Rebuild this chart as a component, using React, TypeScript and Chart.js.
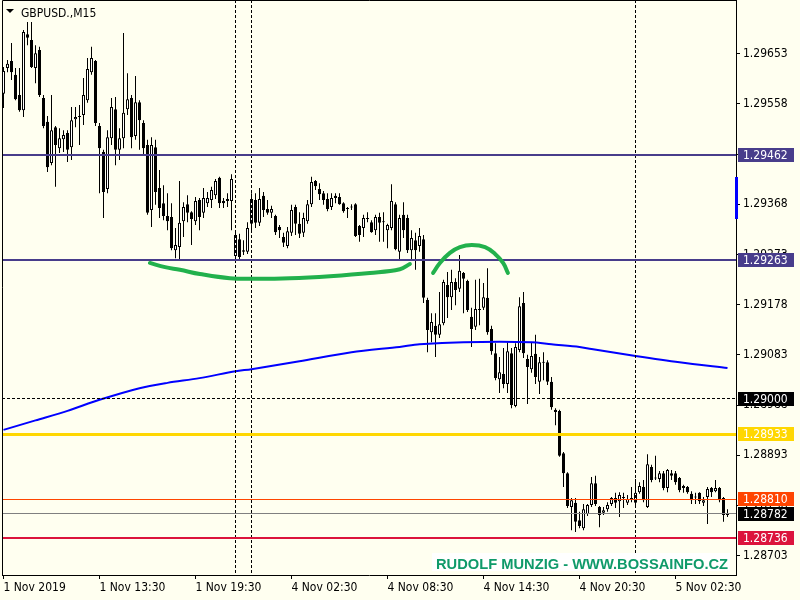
import React, { useEffect, useRef } from "react";
import { Chart, registerables } from "chart.js";

Chart.register(...registerables);

// ---------- text ----------
const SYMBOL_TITLE = "GBPUSD.,M15";
const WATERMARK_TEXT = "RUDOLF MUNZIG - WWW.BOSSAINFO.CZ";

// ---------- M15 candles (bar index 0..181) ----------
const OPEN = [
  1.29577, 1.29626, 1.29639, 1.29613, 1.29575, 1.29546, 1.2969, 1.29679, 1.29626, 1.2966,
  1.29569, 1.29524, 1.29446, 1.29514, 1.29474, 1.29491, 1.29503, 1.29476, 1.29529, 1.29533,
  1.29537, 1.29565, 1.29618, 1.29639, 1.29516, 1.29467, 1.29397, 1.29493, 1.29548, 1.29471,
  1.29493, 1.29548, 1.29569, 1.29497, 1.29561, 1.29522, 1.2948, 1.29357, 1.29476, 1.29399,
  1.2937, 1.29346, 1.29344, 1.29281, 1.29287, 1.29336, 1.29368, 1.29353, 1.29336, 1.29376,
  1.29352, 1.2937, 1.29376, 1.29385, 1.29418, 1.29374, 1.29374, 1.29374, 1.2927, 1.29302,
  1.29281, 1.29278, 1.29331, 1.29376, 1.29333, 1.29384, 1.29359, 1.29352, 1.29346, 1.29325,
  1.29306, 1.29289, 1.29314, 1.29363, 1.29331, 1.29314, 1.29336, 1.29368, 1.29412, 1.29397,
  1.29389, 1.29378, 1.29363, 1.29384, 1.29382, 1.2937, 1.29361, 1.29363, 1.29368, 1.29327,
  1.29323, 1.2934, 1.29334, 1.29319, 1.29344, 1.29334, 1.29319, 1.29323, 1.29368, 1.29278,
  1.29348, 1.29342, 1.29281, 1.293, 1.29289, 1.29302, 1.29187, 1.29126, 1.29138, 1.29121,
  1.29143, 1.29215, 1.29192, 1.29221, 1.29208, 1.29238, 1.29223, 1.29155, 1.29136, 1.29168,
  1.29172, 1.29191, 1.29132, 1.29086, 1.29037, 1.29047, 1.29028, 1.29086, 1.28986, 1.29092,
  1.29181, 1.29075, 1.29056, 1.29085, 1.29032, 1.29069, 1.29069, 1.29032, 1.28979, 1.28977,
  1.28897, 1.28859, 1.28795, 1.28803, 1.2877, 1.28755, 1.28782, 1.28799, 1.2884, 1.28795,
  1.28784, 1.28791, 1.28801, 1.28812, 1.28806, 1.28814, 1.28803, 1.2881, 1.28803, 1.28823,
  1.28833, 1.28795, 1.28871, 1.2885, 1.28848, 1.28859, 1.28831, 1.28859, 1.28859, 1.2885,
  1.28835, 1.28833, 1.2882, 1.28814, 1.28822, 1.28803, 1.28814, 1.28831, 1.28825, 1.28831,
  1.28812, 1.2878,
];
const HIGH = [
  1.29628, 1.29641, 1.29673, 1.29626, 1.29626, 1.29698, 1.29713, 1.29713, 1.29669, 1.29666,
  1.29575, 1.29535, 1.29575, 1.29516, 1.29512, 1.29508, 1.29508, 1.29552, 1.29552, 1.29556,
  1.29607, 1.29645, 1.29666, 1.29641, 1.29522, 1.29471, 1.29508, 1.29569, 1.29571, 1.29512,
  1.29692, 1.29616, 1.29575, 1.29611, 1.29565, 1.29527, 1.2949, 1.29495, 1.2949, 1.29433,
  1.29404, 1.29389, 1.2937, 1.29323, 1.29412, 1.29372, 1.29385, 1.29355, 1.29382, 1.2938,
  1.29399, 1.29391, 1.29401, 1.29416, 1.2942, 1.2938, 1.29389, 1.29425, 1.29319, 1.29312,
  1.293, 1.29334, 1.29389, 1.29389, 1.29399, 1.29391, 1.29376, 1.29365, 1.29348, 1.29329,
  1.29314, 1.29325, 1.29367, 1.29367, 1.29353, 1.29352, 1.29376, 1.2942, 1.29414, 1.29408,
  1.29393, 1.29389, 1.29389, 1.29389, 1.29389, 1.29372, 1.29363, 1.29368, 1.2937, 1.29329,
  1.29348, 1.29353, 1.29338, 1.29348, 1.29352, 1.29353, 1.29331, 1.29406, 1.29372, 1.29348,
  1.29372, 1.29348, 1.29319, 1.29314, 1.29323, 1.2931, 1.29191, 1.29162, 1.29162, 1.29202,
  1.29225, 1.2924, 1.29244, 1.29228, 1.29272, 1.2924, 1.29225, 1.29172, 1.29225, 1.29227,
  1.29219, 1.29247, 1.29138, 1.29105, 1.29079, 1.29096, 1.29107, 1.29096, 1.29105, 1.29192,
  1.29202, 1.29083, 1.29107, 1.29121, 1.29079, 1.29088, 1.29073, 1.29041, 1.28982, 1.28979,
  1.28899, 1.28861, 1.28812, 1.28812, 1.28786, 1.28801, 1.28801, 1.28852, 1.28854, 1.28797,
  1.28795, 1.28804, 1.28814, 1.28822, 1.28823, 1.28822, 1.28818, 1.28833, 1.28848, 1.28842,
  1.28846, 1.28895, 1.28875, 1.28892, 1.28863, 1.28863, 1.28867, 1.28865, 1.28863, 1.28852,
  1.28837, 1.28835, 1.28825, 1.28822, 1.28823, 1.28814, 1.28833, 1.28833, 1.28846, 1.28833,
  1.28814, 1.28791,
];
const LOW = [
  1.2955, 1.29618, 1.29603, 1.29565, 1.29543, 1.29533, 1.29669, 1.29626, 1.29597, 1.29571,
  1.29512, 1.29429, 1.29442, 1.29401, 1.29465, 1.29467, 1.29448, 1.29452, 1.29514, 1.2948,
  1.29518, 1.2956, 1.29613, 1.29516, 1.29389, 1.29342, 1.29389, 1.2948, 1.29442, 1.29452,
  1.29474, 1.29537, 1.29474, 1.2949, 1.29471, 1.29461, 1.29348, 1.29325, 1.29367, 1.29342,
  1.29338, 1.29319, 1.29281, 1.29266, 1.29262, 1.29306, 1.29334, 1.29291, 1.29329, 1.29319,
  1.29342, 1.29363, 1.29361, 1.29378, 1.29361, 1.29361, 1.29363, 1.29319, 1.29262, 1.29262,
  1.29272, 1.29274, 1.29314, 1.29323, 1.29327, 1.29344, 1.29348, 1.29342, 1.2931, 1.29304,
  1.29287, 1.29285, 1.29308, 1.2931, 1.29304, 1.29306, 1.29331, 1.29363, 1.29395, 1.29376,
  1.29367, 1.29355, 1.29357, 1.2937, 1.29367, 1.29352, 1.29342, 1.29357, 1.29306, 1.29297,
  1.29306, 1.29334, 1.29314, 1.2931, 1.29297, 1.29297, 1.29285, 1.29319, 1.29281, 1.29262,
  1.29304, 1.29276, 1.29262, 1.29244, 1.29278, 1.29181, 1.29088, 1.29107, 1.29079, 1.29115,
  1.29139, 1.29153, 1.29168, 1.29177, 1.29202, 1.29162, 1.29164, 1.29098, 1.2913, 1.29139,
  1.29168, 1.29121, 1.29083, 1.29035, 1.29011, 1.2902, 1.29011, 1.28982, 1.28984, 1.29088,
  1.29077, 1.2899, 1.29049, 1.29028, 1.29009, 1.29035, 1.29026, 1.28979, 1.2895, 1.2889,
  1.28833, 1.28793, 1.28751, 1.28748, 1.28755, 1.28751, 1.28778, 1.28795, 1.28797, 1.28757,
  1.2878, 1.28786, 1.28797, 1.28793, 1.28776, 1.28793, 1.28799, 1.28804, 1.28799, 1.2882,
  1.28804, 1.28793, 1.28842, 1.28846, 1.28842, 1.28827, 1.28823, 1.28846, 1.28837, 1.28823,
  1.28822, 1.2882, 1.28801, 1.28801, 1.28801, 1.28797, 1.28763, 1.28814, 1.28823, 1.28804,
  1.28767, 1.28776,
];
const CLOSE = [
  1.2962, 1.29634, 1.29618, 1.29567, 1.29546, 1.29694, 1.29683, 1.29628, 1.29654, 1.29575,
  1.29516, 1.29438, 1.29508, 1.2948, 1.29493, 1.29499, 1.29471, 1.29527, 1.29533, 1.29535,
  1.29575, 1.29624, 1.29645, 1.29522, 1.29474, 1.29391, 1.29495, 1.29552, 1.29471, 1.29493,
  1.29541, 1.29567, 1.29495, 1.29561, 1.29527, 1.29474, 1.29352, 1.2948, 1.29391, 1.29361,
  1.29346, 1.29336, 1.29285, 1.29291, 1.29333, 1.29363, 1.29352, 1.2934, 1.29374, 1.29344,
  1.2938, 1.2938, 1.29395, 1.29412, 1.2937, 1.2937, 1.29378, 1.29416, 1.2931, 1.29268,
  1.29278, 1.29323, 1.29378, 1.29333, 1.29378, 1.29357, 1.29352, 1.29359, 1.29315, 1.29319,
  1.29295, 1.29317, 1.29357, 1.29331, 1.29312, 1.29342, 1.29368, 1.2941, 1.29402, 1.29387,
  1.29376, 1.29359, 1.2938, 1.2938, 1.29368, 1.29355, 1.29359, 1.29362, 1.29308, 1.2931,
  1.29342, 1.29341, 1.29315, 1.29344, 1.29333, 1.29336, 1.29329, 1.29374, 1.29283, 1.29342,
  1.29319, 1.29281, 1.29304, 1.29281, 1.29308, 1.29191, 1.2913, 1.29145, 1.29121, 1.29141,
  1.29221, 1.29192, 1.29221, 1.29206, 1.29242, 1.29227, 1.29168, 1.29132, 1.2917, 1.2917,
  1.29192, 1.29126, 1.2909, 1.29039, 1.2905, 1.29028, 1.2909, 1.28988, 1.29098, 1.29175,
  1.29086, 1.2906, 1.29081, 1.29041, 1.29069, 1.29068, 1.29032, 1.28984, 1.28975, 1.28892,
  1.28859, 1.28797, 1.28808, 1.28767, 1.28759, 1.28791, 1.28799, 1.2884, 1.28801, 1.2878,
  1.28789, 1.28799, 1.28812, 1.28803, 1.28818, 1.28812, 1.2881, 1.28811, 1.28822, 1.28835,
  1.28808, 1.28876, 1.28846, 1.28849, 1.28859, 1.28831, 1.28865, 1.28854, 1.28842, 1.28827,
  1.28831, 1.28823, 1.28808, 1.28813, 1.28806, 1.28808, 1.28829, 1.28823, 1.28831, 1.28808,
  1.2878, 1.28782,
];

// ---------- axes ----------
const X_TICK_BARS = [0, 24, 48, 72, 96, 120, 144, 168];
const X_TICK_LABELS = [
  "1 Nov 2019", "1 Nov 13:30", "1 Nov 19:30", "4 Nov 02:30",
  "4 Nov 08:30", "4 Nov 14:30", "4 Nov 20:30", "5 Nov 02:30",
];
const Y_TICKS = [
  1.29653, 1.29558, 1.29463, 1.29368, 1.29273, 1.29178,
  1.29083, 1.28988, 1.28893, 1.28798, 1.28703,
];
const X_MIN = -0.375;
const X_MAX = 183.125;
const Y_MIN = 1.286664;
const Y_MAX = 1.297546;

// ---------- moving average (sampled along the bars) ----------
const MA_BARS = [0, 8, 16, 24, 34, 41, 49, 58, 62, 74, 87, 99, 104, 115, 132, 137, 144, 147, 158, 169, 181];
const MA_VALUES = [
  1.28941, 1.28959, 1.28977, 1.28998, 1.2902, 1.2903, 1.29039, 1.29052, 1.29056, 1.29071,
  1.29088, 1.29098, 1.29103, 1.29107, 1.29107, 1.29103, 1.29098, 1.29094, 1.29081, 1.29069, 1.29058,
];

// ---------- hand-drawn green arcs ----------
const ARC1_BARS = [36.6, 40.4, 44.1, 49.1, 56.6, 63.4, 71.6, 81.6, 91.6, 99.1, 101.6];
const ARC1_PRICES = [1.29257, 1.29249, 1.29244, 1.29236, 1.29228, 1.29227, 1.29228, 1.29232, 1.29238, 1.29245, 1.29255];
const ARC2_BARS = [107.4, 109.1, 111.6, 114.1, 117.1, 120.4, 122.9, 124.9, 126.1];
const ARC2_PRICES = [1.29238, 1.29257, 1.29276, 1.29287, 1.29291, 1.29287, 1.29274, 1.29257, 1.29238];

// ---------- horizontal levels / vertical lines ----------
const LEVEL_PRICES = [1.29462, 1.29263, 1.29, 1.28933, 1.2881, 1.28782, 1.28736];
const VLINE_BARS = [58, 62, 158];
const AXIS_MARKER = [1.29341, 1.2942];

// ---------- styles ----------
const BG = "#FFFFF0";
const FONT = "'DejaVu Sans Condensed', 'DejaVu Sans', sans-serif";
const GREEN = "#22B14C";
const LEVEL_STYLES = [
  { line: "#483D8B", width: 2, box: "#483D8B", dash: [] as number[] },
  { line: "#483D8B", width: 2, box: "#483D8B", dash: [] as number[] },
  { line: "#000000", width: 1, box: "#000000", dash: [3, 2] },
  { line: "#FFD700", width: 3, box: "#FFD700", dash: [] as number[] },
  { line: "#FF4500", width: 1, box: "#FF4500", dash: [] as number[] },
  { line: "#808080", width: 1, box: "#000000", dash: [] as number[] },
  { line: "#DC143C", width: 2, box: "#DC143C", dash: [] as number[] },
];
const MA_DATASET_INDEX = 2;

function drawObjects(chart: any) {
  const { ctx, chartArea: a, scales } = chart;
  const x = scales.x;
  const y = scales.y;
  ctx.save();
  ctx.beginPath();
  ctx.rect(a.left, a.top, a.right - a.left, a.bottom - a.top);
  ctx.clip();
  ctx.strokeStyle = "#000";
  ctx.lineWidth = 1;
  ctx.setLineDash([3, 2]);
  for (const b of VLINE_BARS) {
    const px = Math.floor(x.getPixelForValue(b)) + 0.5;
    ctx.beginPath();
    ctx.moveTo(px, a.top);
    ctx.lineTo(px, a.bottom);
    ctx.stroke();
  }
  LEVEL_PRICES.forEach((p, k) => {
    const st = LEVEL_STYLES[k];
    const py = y.getPixelForValue(p);
    const yy = st.width % 2 === 1 ? Math.floor(py) + 0.5 : Math.round(py);
    ctx.setLineDash(st.dash);
    ctx.lineWidth = st.width;
    ctx.strokeStyle = st.line;
    ctx.beginPath();
    ctx.moveTo(a.left, yy);
    ctx.lineTo(a.right, yy);
    ctx.stroke();
  });
  ctx.restore();
}

const overlay = {
  id: "mt4overlay",
  beforeDraw(chart: any) {
    const { ctx, width, height } = chart;
    ctx.save();
    ctx.fillStyle = BG;
    ctx.fillRect(0, 0, width, height);
    ctx.restore();
  },
  afterDatasetDraw(chart: any, args: any) {
    if (args.index === MA_DATASET_INDEX) drawObjects(chart);
  },
  afterDraw(chart: any) {
    const { ctx, chartArea: a, scales } = chart;
    const y = scales.y;
    ctx.save();
    // top and left frame
    ctx.strokeStyle = "#000";
    ctx.lineWidth = 1;
    ctx.setLineDash([]);
    ctx.beginPath();
    ctx.moveTo(a.left + 0.5, a.bottom);
    ctx.lineTo(a.left + 0.5, a.top + 0.5);
    ctx.lineTo(a.right, a.top + 0.5);
    ctx.stroke();
    // blue marker on the price axis
    const m1 = y.getPixelForValue(AXIS_MARKER[1]);
    const m0 = y.getPixelForValue(AXIS_MARKER[0]);
    ctx.fillStyle = "#0000FF";
    ctx.fillRect(a.right - 1, Math.round(m1), 3, Math.round(m0 - m1));
    // level labels
    ctx.font = `12px ${FONT}`;
    ctx.textAlign = "left";
    ctx.textBaseline = "middle";
    LEVEL_PRICES.forEach((p, k) => {
      const st = LEVEL_STYLES[k];
      const cy = Math.round(y.getPixelForValue(p));
      ctx.fillStyle = st.box;
      ctx.fillRect(a.right + 2, cy - 7, 56, 14);
      ctx.fillStyle = "#FFFFFF";
      ctx.fillText(p.toFixed(5), a.right + 7, cy + 0.5);
    });
    // title
    ctx.fillStyle = "#000";
    ctx.beginPath();
    ctx.moveTo(6, 9);
    ctx.lineTo(14, 9);
    ctx.lineTo(10, 13);
    ctx.closePath();
    ctx.fill();
    ctx.textBaseline = "alphabetic";
    ctx.fillText(SYMBOL_TITLE, 21, 17);
    // watermark
    ctx.fillStyle = "#FFFFFF";
    ctx.fillRect(432, 553, 298, 18);
    ctx.font = "bold 14.7px 'Liberation Sans', Arial, sans-serif";
    ctx.fillStyle = "#0F9A6A";
    ctx.textAlign = "center";
    ctx.fillText(WATERMARK_TEXT, 582, 569);
    ctx.restore();
  },
};

export default function App() {
  const ref = useRef<HTMLCanvasElement>(null);
  useEffect(() => {
    const canvas = ref.current;
    if (!canvas) return;
    const idx = OPEN.map((_, i) => i);
    const chart = new Chart(canvas, {
      type: "bar",
      data: {
        datasets: [
          {
            type: "line",
            label: "arc1",
            data: ARC1_BARS.map((b, k) => ({ x: b, y: ARC1_PRICES[k] })),
            borderColor: GREEN,
            borderWidth: 4,
            pointRadius: 0,
            tension: 0.4,
            borderCapStyle: "round",
            order: 0,
          },
          {
            type: "line",
            label: "arc2",
            data: ARC2_BARS.map((b, k) => ({ x: b, y: ARC2_PRICES[k] })),
            borderColor: GREEN,
            borderWidth: 4,
            pointRadius: 0,
            tension: 0.4,
            borderCapStyle: "round",
            order: 0,
          },
          {
            type: "line",
            label: "MA",
            data: MA_BARS.map((b, k) => ({ x: b, y: MA_VALUES[k] })),
            borderColor: "#0000FF",
            borderWidth: 2,
            pointRadius: 0,
            tension: 0.3,
            order: 1,
          },
          {
            type: "bar",
            label: "body",
            data: idx.map((i) => ({ x: i, y: [OPEN[i], CLOSE[i]] })),
            backgroundColor: idx.map((i) => (CLOSE[i] >= OPEN[i] ? "#FFFFFF" : "#000000")),
            borderColor: "#000000",
            borderWidth: 1,
            borderSkipped: false,
            barThickness: 3,
            minBarLength: 1,
            inflateAmount: 0,
            grouped: false,
            order: 2,
          },
          {
            type: "bar",
            label: "wick",
            data: idx.map((i) => ({ x: i, y: [LOW[i], HIGH[i]] })),
            backgroundColor: "#000000",
            borderWidth: 0,
            barThickness: 1,
            inflateAmount: 0,
            grouped: false,
            order: 3,
          },
        ],
      } as any,
      options: {
        responsive: false,
        animation: false,
        devicePixelRatio: 1,
        events: [],
        layout: { padding: { left: 2, top: 0, right: 0, bottom: 0 } },
        plugins: { legend: { display: false }, tooltip: { enabled: false } },
        scales: {
          x: {
            type: "linear",
            position: "bottom",
            min: X_MIN,
            max: X_MAX,
            offset: false,
            grid: { display: true, drawOnChartArea: false, drawTicks: true, tickLength: 4, color: "#000", offset: false },
            border: { display: true, color: "#000", width: 1 },
            ticks: {
              autoSkip: false,
              maxRotation: 0,
              minRotation: 0,
              align: "start",
              padding: 2,
              color: "#000",
              font: { family: FONT, size: 12 },
              callback: (v: any) => {
                const k = X_TICK_BARS.indexOf(Number(v));
                return k >= 0 ? X_TICK_LABELS[k] : "";
              },
            },
            afterBuildTicks: (s: any) => {
              s.ticks = X_TICK_BARS.map((v) => ({ value: v }));
            },
            afterFit: (s: any) => {
              s.height = 25;
              s.paddingLeft = 0;
              s.paddingRight = 0;
            },
          },
          y: {
            type: "linear",
            position: "right",
            min: Y_MIN,
            max: Y_MAX,
            grid: { display: true, drawOnChartArea: false, drawTicks: true, tickLength: 4, color: "#000" },
            border: { display: true, color: "#000", width: 1 },
            ticks: {
              autoSkip: false,
              padding: 3,
              color: "#000",
              font: { family: FONT, size: 12 },
              callback: (v: any) => Number(v).toFixed(5),
            },
            afterBuildTicks: (s: any) => {
              s.ticks = Y_TICKS.map((v) => ({ value: v }));
            },
            afterFit: (s: any) => {
              s.width = 64;
              s.paddingTop = 0;
              s.paddingBottom = 0;
            },
          },
        },
      } as any,
      plugins: [overlay],
    });
    return () => chart.destroy();
  }, []);
  return (
    <div style={{ position: "fixed", left: 0, top: 0, width: 800, height: 600, background: BG }}>
      <canvas ref={ref} width={800} height={600} style={{ display: "block" }} />
    </div>
  );
}
